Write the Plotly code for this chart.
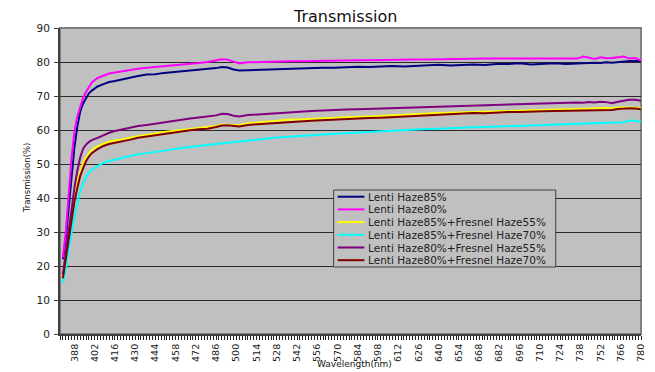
import plotly.graph_objects as go

# Wavelength samples (nm)
wavelength = [380, 382, 384, 386, 388, 390, 392, 394, 396, 398, 400, 404, 408, 412, 416, 420,
              426, 432, 438, 444, 450, 456, 462, 468, 474, 480, 486, 490, 494, 498, 502, 508,
              514, 520, 528, 536, 544, 552, 560, 568, 576, 584, 592, 600, 608, 616, 624, 632,
              640, 648, 656, 664, 672, 680, 688, 696, 704, 712, 720, 728, 736, 740, 744, 748,
              752, 756, 760, 764, 768, 772, 776, 780]

lenti_h85 = [22, 28, 37, 47, 55, 61, 65.5, 67.8, 69.4, 70.8, 71.6, 72.8, 73.5, 74.1, 74.4, 74.8,
             75.3, 75.9, 76.3, 76.4, 76.8, 77.0, 77.2, 77.4, 77.6, 78.0, 78.2, 78.5, 78.4, 77.8, 77.5, 77.6,
             77.7, 77.8, 77.9, 78.0, 78.1, 78.2, 78.3, 78.3, 78.5, 78.6, 78.5, 78.7, 78.8, 78.7, 78.8, 79.0,
             79.2, 79.0, 79.2, 79.3, 79.1, 79.4, 79.4, 79.6, 79.3, 79.5, 79.6, 79.4, 79.6, 79.7, 79.6, 79.8,
             79.7, 79.9, 79.8, 80.0, 80.2, 80.3, 80.3, 80.3]

lenti_h80 = [22.5, 30, 41, 52, 59.6, 64, 66.8, 69.5, 71.2, 72.8, 74, 75.3, 76.0, 76.6, 76.9, 77.2,
             77.6, 78.0, 78.3, 78.5, 78.9, 79.1, 79.3, 79.5, 79.7, 80.0, 80.4, 80.8, 80.7, 80.2, 79.6, 79.9,
             80.0, 80.0, 80.1, 80.2, 80.2, 80.3, 80.3, 80.4, 80.4, 80.5, 80.5, 80.6, 80.6, 80.6, 80.7, 80.7,
             80.8, 80.8, 80.9, 80.9, 81.0, 81.0, 81.0, 81.1, 81.1, 81.2, 81.0, 81.2, 81.0, 81.6, 81.3, 80.9,
             81.4, 81.1, 81.2, 81.5, 81.6, 81.0, 81.2, 80.4]

h85_f55 = [16.5, 22, 29, 35, 40.5, 45, 48, 50.3, 52, 53.3, 54.2, 55.2, 56, 56.6, 56.9, 57.1,
           57.7, 58.2, 58.6, 59.0, 59.4, 59.7, 60.0, 60.2, 60.5, 60.8, 61.2, 61.6, 61.6, 61.4, 61.4, 62.0,
           62.2, 62.5, 62.8, 63.0, 63.1, 63.3, 63.4, 63.5, 63.7, 63.9, 64.0, 64.2, 64.4, 64.5, 64.7, 64.8,
           65.0, 65.1, 65.2, 65.3, 65.4, 65.6, 65.8, 65.9, 66.0, 66.0, 66.1, 66.2, 66.2, 66.3, 66.3, 66.4,
           66.4, 66.5, 66.5, 66.6, 66.6, 66.6, 66.5, 66.4]

h85_f70 = [15.1, 19, 25, 30, 34.5, 38.5, 42, 44.3, 46.3, 47.5, 48.3, 49.4, 50.3, 50.9, 51.3, 51.8,
           52.3, 52.9, 53.2, 53.5, 54.0, 54.3, 54.7, 55.0, 55.3, 55.7, 56.0, 56.3, 56.4, 56.5, 56.6, 56.9,
           57.2, 57.4, 57.8, 58.0, 58.3, 58.5, 58.7, 58.9, 59.1, 59.3, 59.5, 59.6, 59.8, 60.0, 60.1, 60.3,
           60.4, 60.6, 60.7, 60.8, 60.9, 61.0, 61.1, 61.2, 61.4, 61.5, 61.7, 61.8, 61.9, 61.9, 62.0, 62.0,
           62.1, 62.1, 62.0, 62.1, 62.3, 62.8, 62.7, 62.5]

h80_f55 = [17.5, 24, 31, 37.5, 43, 48, 52, 54.5, 55.7, 56.5, 57, 57.7, 58.5, 59.2, 59.7, 60.1,
           60.6, 61.2, 61.5, 61.9, 62.4, 62.7, 63.1, 63.4, 63.7, 64.0, 64.3, 64.8, 64.7, 64.2, 64.0, 64.4,
           64.6, 64.8, 65.0, 65.2, 65.4, 65.6, 65.8, 65.9, 66.0, 66.1, 66.2, 66.3, 66.4, 66.5, 66.6, 66.7,
           66.9, 66.9, 67.0, 67.1, 67.2, 67.4, 67.6, 67.5, 67.7, 67.7, 67.8, 68.0, 68.1, 68.0, 68.2, 68.1,
           68.3, 68.2, 67.9, 68.3, 68.6, 68.9, 68.9, 68.6]

h80_f70 = [16.4, 22, 29, 34, 39, 43, 46.5, 48.8, 50.8, 52.2, 53.2, 54.4, 55.3, 55.9, 56.2, 56.5,
           57.1, 57.7, 58.1, 58.5, 58.9, 59.2, 59.6, 59.9, 60.2, 60.4, 60.9, 61.3, 61.4, 61.2, 61.0, 61.5,
           61.7, 61.9, 62.1, 62.3, 62.5, 62.7, 62.9, 63.0, 63.2, 63.4, 63.5, 63.6, 63.8, 64.0, 64.2, 64.4,
           64.5, 64.6, 64.8, 65.0, 64.9, 65.2, 65.3, 65.3, 65.5, 65.5, 65.6, 65.7, 65.8, 65.7, 65.9, 65.8,
           66.0, 66.0, 65.9, 66.2, 66.4, 66.4, 66.3, 66.1]

series_names = ["Lenti Haze85%", "Lenti Haze80%", "Lenti Haze85%+Fresnel Haze55%",
                "Lenti Haze85%+Fresnel Haze70%", "Lenti Haze80%+Fresnel Haze55%",
                "Lenti Haze80%+Fresnel Haze70%"]
series_values = [lenti_h85, lenti_h80, h85_f55, h85_f70, h80_f55, h80_f70]
series_colors = ["#000080", "#FF00FF", "#FFFF00", "#00FFFF", "#800080", "#800000"]

x_tick_labels = list(range(388, 781, 14))
y_ticks = list(range(0, 91, 10))

# Figure geometry in pixels
W, H = 655, 372
ML, MR, MT, MB = 60, 9, 28, 38
PW, PH = W - ML - MR, H - MT - MB


def px_x(p):
    return (p - ML) / PW


def px_y(p):
    return (H - MB - p) / PH


fig = go.Figure()
for name, vals, col in zip(series_names, series_values, series_colors):
    fig.add_trace(go.Scatter(x=wavelength, y=vals, mode="lines", name=name,
                             line=dict(color=col, width=2), showlegend=False))

fig.update_layout(
    width=W, height=H,
    margin=dict(l=ML, r=MR, t=MT, b=MB),
    paper_bgcolor="white",
    plot_bgcolor="#C0C0C0",
    font=dict(family="DejaVu Sans", color="#111"),
)

fig.update_xaxes(
    range=[378, 780],
    tickvals=x_tick_labels,
    ticktext=[str(v) for v in x_tick_labels],
    tickangle=-90,
    tickfont=dict(size=9.5, family="DejaVu Sans", color="#222"),
    ticks="outside", ticklen=4, tickcolor="#202020", tickwidth=1,
    minor=dict(dtick=2, tick0=380, ticks="outside", ticklen=4, tickcolor="#202020", tickwidth=1, showgrid=False),
    showgrid=False, zeroline=False,
    showline=True, linecolor="#404040", linewidth=2,
)
fig.update_yaxes(
    range=[0, 90],
    tickvals=y_ticks,
    tickfont=dict(size=10.5, family="DejaVu Sans", color="#222"),
    ticks="outside", ticklen=4, tickcolor="#404040", tickwidth=1,
    ticklabelstandoff=2,
    showgrid=True, gridcolor="#2a2a2a", gridwidth=1,
    zeroline=False,
    showline=True, linecolor="#404040", linewidth=2,
)

# Plot-area frame (top and right edges)
fig.add_shape(type="rect", xref="paper", yref="paper", x0=0, x1=1, y0=0, y1=1,
              line=dict(color="#808080", width=2), layer="below")

# Titles
fig.add_annotation(text="Transmission", xref="paper", yref="paper",
                   x=px_x(347), y=px_y(17), xanchor="center", yanchor="middle", showarrow=False,
                   font=dict(size=16, family="DejaVu Sans", color="#111"))
fig.add_annotation(text="Wavelength(nm)", xref="paper", yref="paper",
                   x=px_x(357), y=px_y(364), xanchor="center", yanchor="middle", showarrow=False,
                   font=dict(size=9, family="DejaVu Sans", color="#111"))
fig.add_annotation(text="Transmission(%)", xref="paper", yref="paper",
                   x=px_x(27), y=px_y(178), xanchor="center", yanchor="middle",
                   showarrow=False, textangle=-90,
                   font=dict(size=8.5, family="DejaVu Sans", color="#111"))

# Legend box
LX0, LX1, LY0, LY1 = 336, 560, 190, 267
fig.add_shape(type="rect", xref="paper", yref="paper",
              x0=px_x(LX0), x1=px_x(LX1), y0=px_y(LY1), y1=px_y(LY0),
              line=dict(color="#404040", width=1), fillcolor="#C0C0C0", layer="above")
row_y = [196.7, 209.4, 222.1, 234.8, 247.5, 260.2]
for name, col, ry in zip(series_names, series_colors, row_y):
    fig.add_shape(type="line", xref="paper", yref="paper",
                  x0=px_x(340), x1=px_x(367), y0=px_y(ry), y1=px_y(ry),
                  line=dict(color=col, width=2), layer="above")
    fig.add_annotation(text=name, xref="paper", yref="paper",
                       x=px_x(369), y=px_y(ry), xanchor="left", yanchor="middle",
                       showarrow=False,
                       font=dict(size=10.5, family="DejaVu Sans", color="#222"))

fig.write_html("out.html")
